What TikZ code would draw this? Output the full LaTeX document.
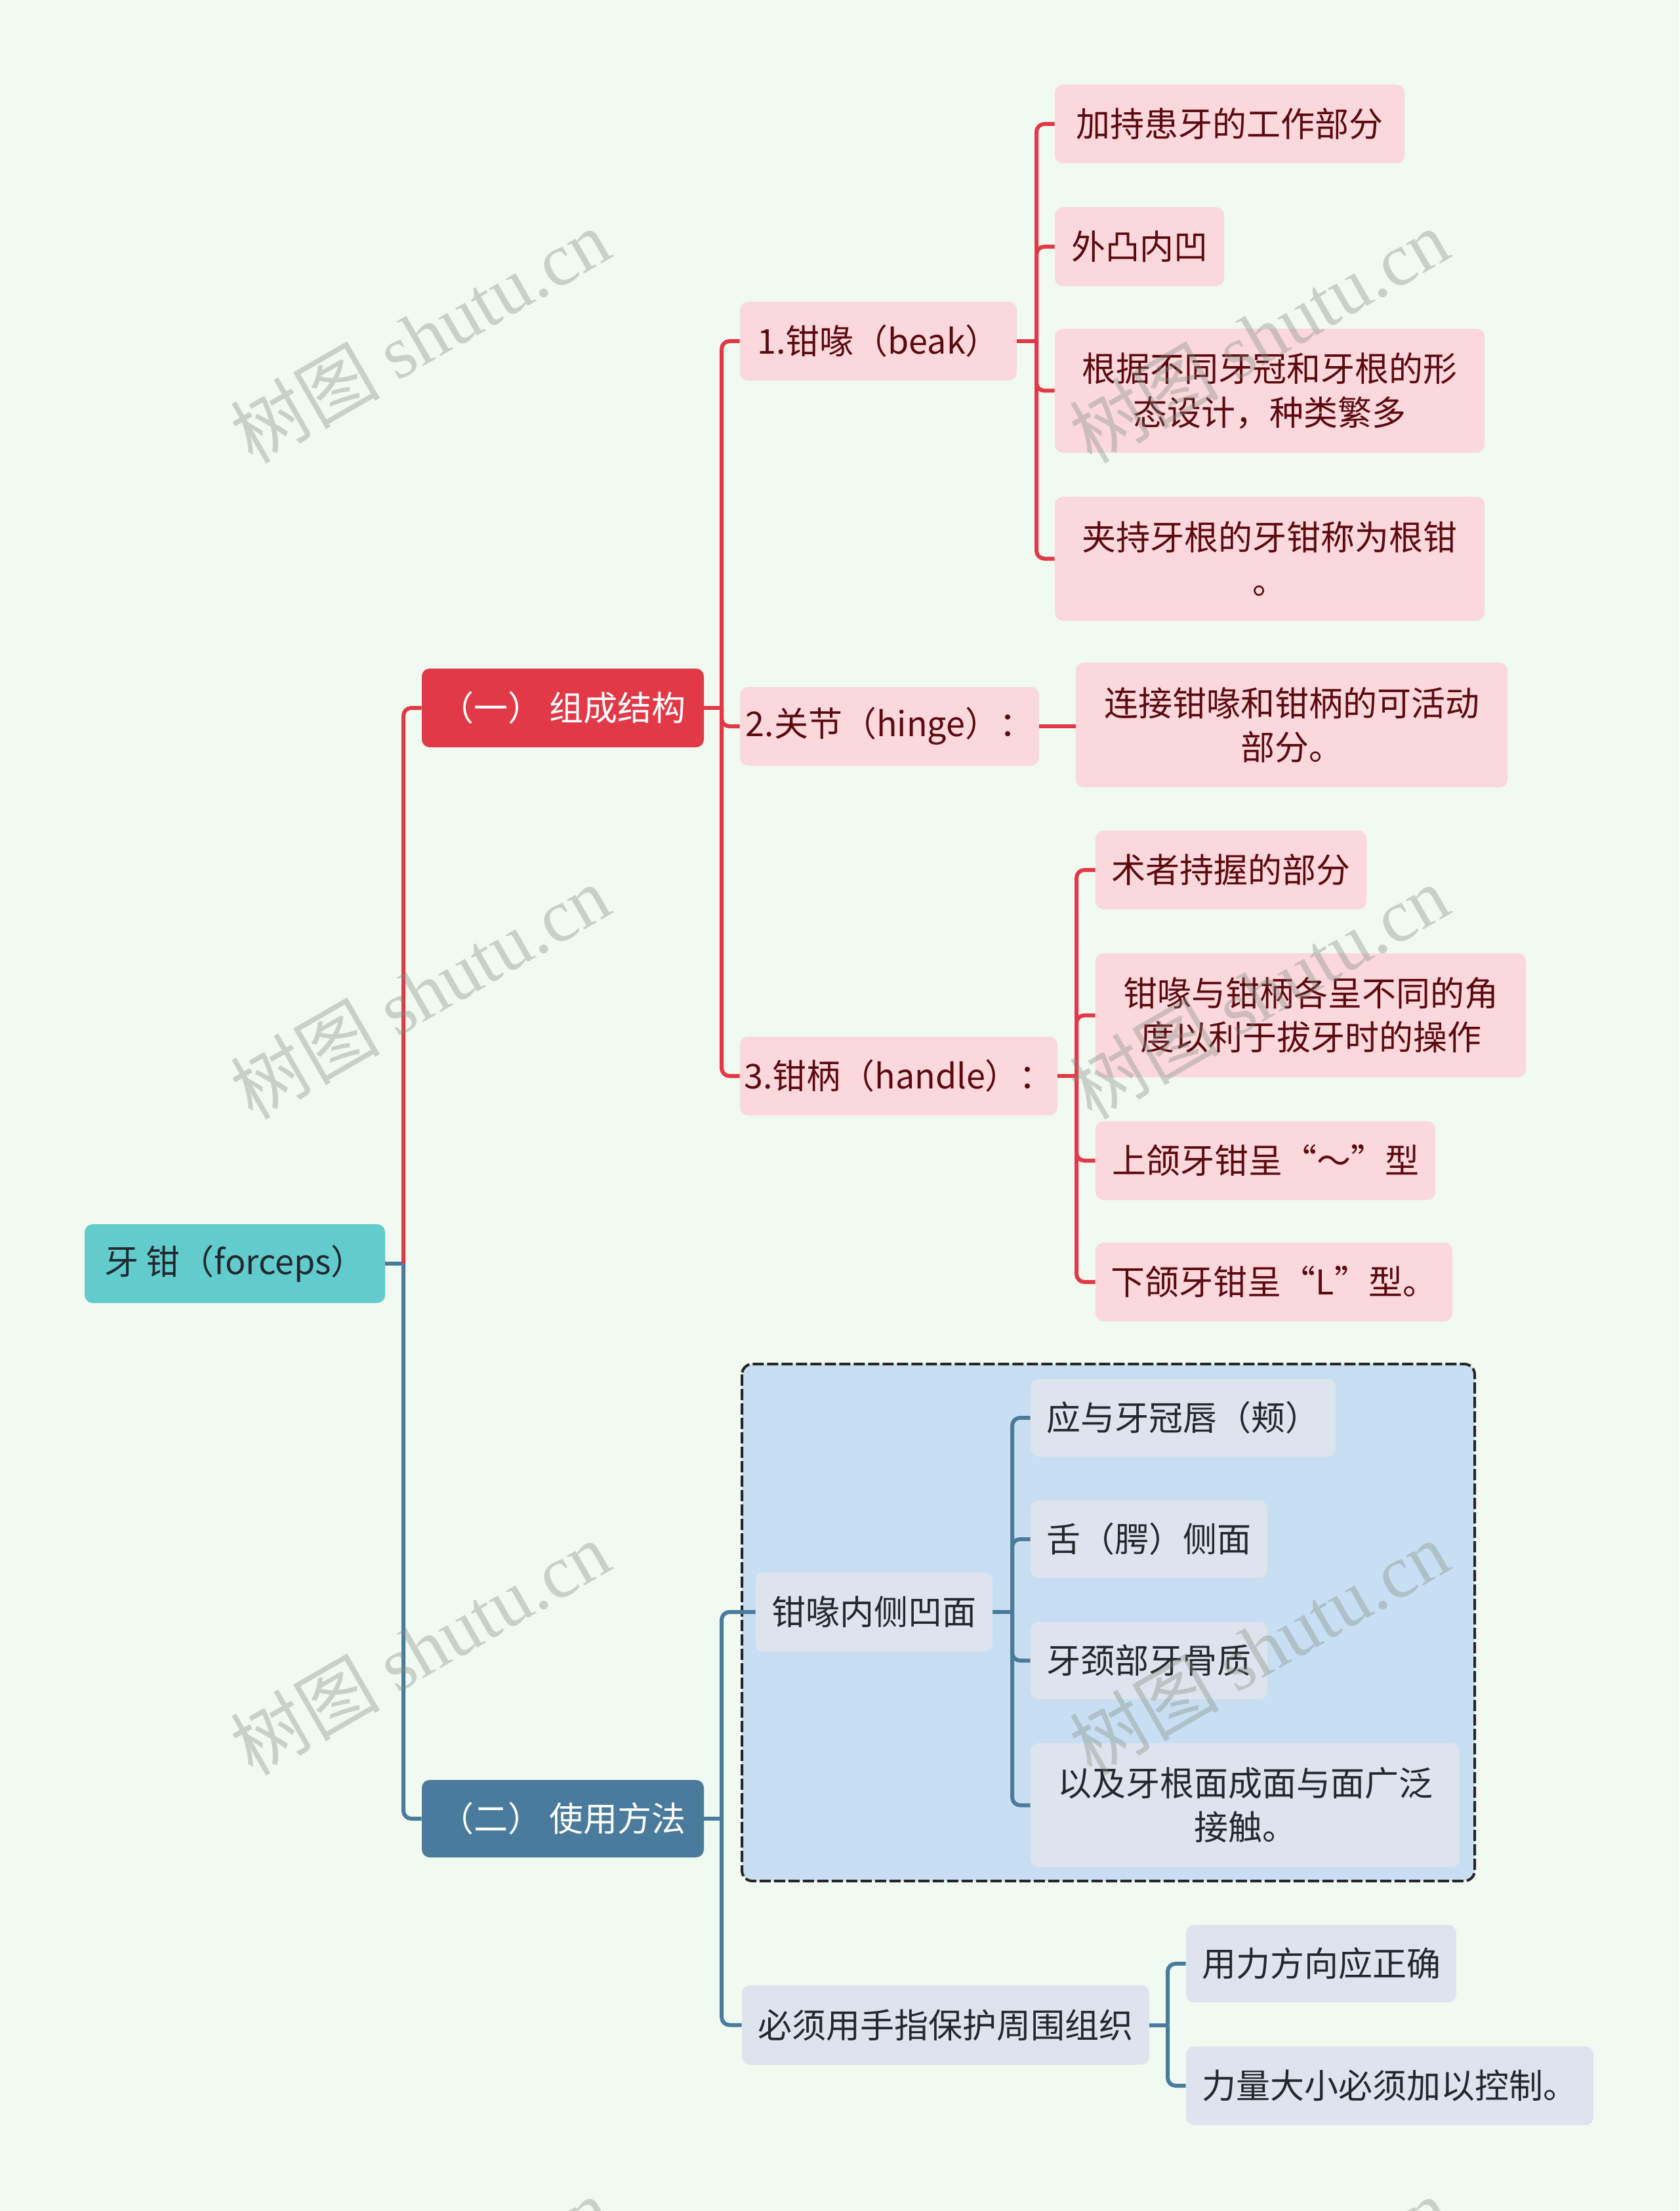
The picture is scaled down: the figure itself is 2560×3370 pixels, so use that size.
\documentclass[tikz,border=0pt]{standalone}
\usepackage{fontspec}
\setmainfont{Noto Sans CJK SC}
\newfontfamily\wmlat{Liberation Serif}
\definecolor{bgc}{RGB}{240,250,240}
\definecolor{rootc}{RGB}{98,203,204}
\definecolor{redc}{RGB}{225,57,71}
\definecolor{pinkc}{RGB}{250,216,220}
\definecolor{maroonc}{RGB}{92,10,16}
\definecolor{bluec}{RGB}{74,123,157}
\definecolor{boxc}{RGB}{200,222,242}
\definecolor{lbluec}{RGB}{220,229,237}
\definecolor{darkt}{RGB}{34,40,46}
\definecolor{wmc}{RGB}{128,140,128}
\begin{document}
\begin{tikzpicture}[x=0.5pt,y=-0.5pt,
  base/.style={rounded corners=6pt, inner sep=0pt, align=center,
    font=\fontsize{26pt}{33.5pt}\selectfont},
  rootn/.style={base, fill=rootc, text=darkt},
  redmain/.style={base, fill=redc, text=white},
  bluemain/.style={base, fill=bluec, text=white},
  pinkn/.style={base, fill=pinkc, text=maroonc},
  lbn/.style={base, fill=lbluec, text=darkt},
  redl/.style={draw=redc, line width=3pt, rounded corners=6pt},
  bluel/.style={draw=bluec, line width=3pt, rounded corners=6pt},
  grpbox/.style={draw=black!85, line width=2pt, dash pattern=on 8.5pt off 2.5pt,
    fill=boxc, rounded corners=8pt},
  wm/.style={text=wmc, opacity=0.36, rotate=30, inner sep=0pt,
    font=\fontsize{57pt}{60pt}\selectfont}
]
\useasboundingbox (0,0) rectangle (2560,3370);
\clip (0,0) rectangle (2560,3370);
\fill[bgc] (0,0) rectangle (2560,3370);

% group box
\draw[grpbox] (1131,2079) rectangle (2248,2867);

% nodes
\node[rootn, minimum width=229pt, minimum height=60pt] (root) at (358,1926) {牙 钳（forceps）};
\node[redmain, minimum width=215pt, minimum height=60pt] (b1) at (858,1079) {（一） 组成结构};
\node[bluemain, minimum width=215pt, minimum height=59pt] (b2) at (858,2772) {（二） 使用方法};

\node[pinkn, minimum width=211pt, minimum height=60pt] (beak) at (1339,520) {1.钳喙（beak）};
\node[pinkn, minimum width=228pt, minimum height=60pt] (hinge) at (1356,1107) {2.关节（hinge）：};
\node[pinkn, minimum width=242pt, minimum height=60pt] (handle) at (1370,1640) {3.钳柄（handle）：};

\node[pinkn, minimum width=266.5pt, minimum height=60pt] (a1) at (1874.5,189) {加持患牙的工作部分};
\node[pinkn, minimum width=129pt, minimum height=60pt] (a2) at (1737,376) {外凸内凹};
\node[pinkn, minimum width=327.5pt, minimum height=94.5pt] (a3) at (1935.5,595.5) {根据不同牙冠和牙根的形\\态设计，种类繁多};
\node[pinkn, minimum width=327.5pt, minimum height=94.5pt] (a4) at (1935.5,851.5) {夹持牙根的牙钳称为根钳\\。};

\node[pinkn, minimum width=329pt, minimum height=95pt] (h1) at (1969,1105) {连接钳喙和钳柄的可活动\\部分。};

\node[pinkn, minimum width=206.5pt, minimum height=60pt] (c1) at (1876.5,1326) {术者持握的部分};
\node[pinkn, minimum width=328pt, minimum height=94.5pt] (c2) at (1998,1547.5) {钳喙与钳柄各呈不同的角\\度以利于拔牙时的操作};
\node[pinkn, minimum width=259pt, minimum height=60pt] (c3) at (1929,1769) {上颌牙钳呈“～”型};
\node[pinkn, minimum width=272pt, minimum height=60pt] (c4) at (1942,1954) {下颌牙钳呈“L”型。};

\node[lbn, minimum width=180.5pt, minimum height=60pt] (d) at (1332.5,2457) {钳喙内侧凹面};
\node[lbn, minimum width=232.5pt, minimum height=59pt] (d1) at (1803.5,2161) {应与牙冠唇（颊）};
\node[lbn, minimum width=180.5pt, minimum height=59pt] (d2) at (1751.5,2346) {舌（腭）侧面};
\node[lbn, minimum width=180.5pt, minimum height=59pt] (d3) at (1751.5,2531) {牙颈部牙骨质};
\node[lbn, minimum width=327pt, minimum height=94.5pt] (d4) at (1898,2751.5) {以及牙根面成面与面广泛\\接触。};

\node[lbn, minimum width=310.5pt, minimum height=60.5pt] (e) at (1441.5,3086.5) {必须用手指保护周围组织};
\node[lbn, minimum width=206pt, minimum height=59pt] (e1) at (2014,2993) {用力方向应正确};
\node[lbn, minimum width=310.5pt, minimum height=60pt] (e2) at (2118.5,3179) {力量大小必须加以控制。};

% trunk points
\coordinate (t0) at (615,1926);
\coordinate (t1) at (1100,1079);
\coordinate (t2) at (1580,520);
\coordinate (t3) at (1641,1640);
\coordinate (t4) at (1100,2772);
\coordinate (t5) at (1543,2457);
\coordinate (t6) at (1780,3086.5);

% connectors
\draw[bluel] (root.east) -- (t0);
\draw[redl] (t0) |- (b1.west);
\draw[bluel] (t0) |- (b2.west);

\draw[redl] (b1.east) -- (t1);
\draw[redl] (t1) |- (beak.west);
\draw[redl] (t1) |- (hinge.west);
\draw[redl] (t1) |- (handle.west);

\draw[redl] (beak.east) -- (t2);
\draw[redl] (t2) |- (a1.west);
\draw[redl] (t2) |- (a2.west);
\draw[redl] (t2) |- (a3.west);
\draw[redl] (t2) |- (a4.west);

\draw[redl] (hinge.east) -- (hinge.east -| h1.west);

\draw[redl] (handle.east) -- (t3);
\draw[redl] (t3) |- (c1.west);
\draw[redl] (t3) |- (c2.west);
\draw[redl] (t3) |- (c3.west);
\draw[redl] (t3) |- (c4.west);

\draw[bluel] (b2.east) -- (t4);
\draw[bluel] (t4) |- (d.west);
\draw[bluel] (t4) |- (e.west);

\draw[bluel] (d.east) -- (t5);
\draw[bluel] (t5) |- (d1.west);
\draw[bluel] (t5) |- (d2.west);
\draw[bluel] (t5) |- (d3.west);
\draw[bluel] (t5) |- (d4.west);

\draw[bluel] (e.east) -- (t6);
\draw[bluel] (t6) |- (e1.west);
\draw[bluel] (t6) |- (e2.west);

% watermarks
\foreach \i in {0,1}{
  \foreach \j in {0,1,2,3}{
    \node[wm] (wm\i\j) at (640+1279*\i, 512+1000*\j) {树图 {\wmlat shutu.cn}};
  }
}
\end{tikzpicture}
\end{document}
